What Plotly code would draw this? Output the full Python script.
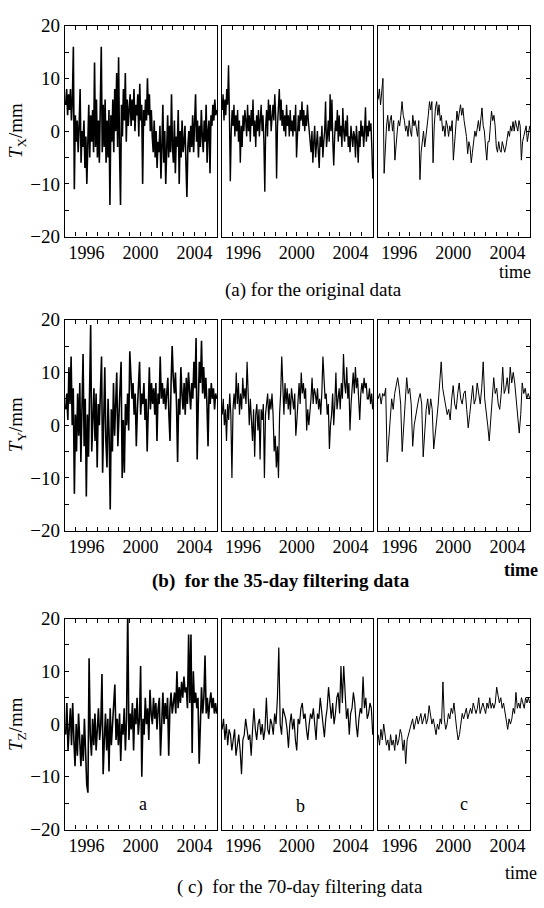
import numpy as np
import plotly.graph_objects as go

W, H = 544, 908
FONT = "Liberation Serif"

# ---------------- data ----------------
# time span of every sub-series (decimal years) and axis ticks
T_START, T_END = 1994.45, 2005.65
X_RANGE = [1994.4, 2005.67]
Y_RANGE = [-20, 20]
YEAR_LABELS = [1996, 2000, 2004]
Y_TICKS = [-20, -15, -10, -5, 0, 5, 10, 15, 20]
Y_LABELS = ["\u221220", "", "\u221210", "", "0", "", "10", "", "20"]

# Row 1: T_X, original data, stations a, b, c
TX_A = [5, 8, 3, 7, 4, 8, 2, 6, 16,
        -11, 3, -2, 2, -4, 1, 8, -6, 0, -3, 2, -7, -1, -10, -3,
        5, -5, 3, -2, 4, -4, 13, -3, 6, -5, 2, -6, 3, 16, -4, 5, -3, 6, -6, 2, -5, 4,
        -14, 3, -2, 6, -4, 8, 0, 11, -3, 14, -4, -14, 5, -1, 8, 2, 11, -2, 6, 1,
        4, 7, 1, 6, 2, 8, 0, 5, 3, 7, -1, 9, 2, 5, -10, 4, 1, 6, 2, 10, 3, 7, 0, 4,
        -1, -4, 2, -5, 0, -7, -2, -4, 1, -9, -3, 5, -6, 0, -10, -2, 3, -5, 1, -4,
        7, -3, -6, 2, -8, -1, -3, 4, -10, 0, -5, 2, -4, -2, 1, -6, -12.5, -3, 0, -4,
        1, -3, 3, -4, 0, 7, -2, 2, -5, 1, -3, 4, -1, -4, 2, -2, 5, -6, 0, 2,
        -8, 3, 1, 5, 2, 6, 3, 4]
TX_B = [4, 7, 2, 6, 3, 8, 5, 12.5,
        3, -9.5, 0, 4,
        1, 5, -1, 3, 0, 4, -2, 2, -6, 1, -3, 3, 0, 4,
        2, -1, 5, 0, 3, -2, 4, 1, 6, -1, 2, -3, 3, 0, 4, -1, 2,
        5, 0, 3, -2, -11.5, 1, 4, -1, 6, 2, 5, 0, 3,
        5, 2, 7, 3, -9, 1, 4, 8, 2, 6, 1,
        4, 0, 3, -1, 5, 1, 3, -1, 4, 0, 2, -1, 3, 0, 5, -5, 1, 3, 0, 4,
        2, 5.6, 1, 4, 0, 3, 1, 5, 2, 0,
        -1, -4, 0, -6, -2, 1, -5, -3, 0, -4, -7, -1, -3, 1, -5, -2, 0, 5.6,
        -3, -1, 2, -2, 7, 0, 6,
        -2, -6.5, -1, 2, 0, 4, -2, 3, -1, 1, -3, 4.4, 0, -2, 2, -1, 3, -3,
        -1, -4, 1, -2, -3, 0, -1, -5, 1, -2, -6, 0, -3, 2, -1, 1, -3, 0, 4.5,
        -2, 1, -1, 2, 0, 1.5, -3, -9]
TX_C = [6, 8, 5, 7, 10, -8, -2, 1, 3, 0, 2, 3, 0, 2, -5.5, -2,
        0, 2, 1, 3, 5.6, 3, 2, 0, 1, -1, 2, 0, -1, 3, 1, 2, 0, -1, 2,
        -9.2, -4, -2, 0, -3, -1, 0, 3, 5.6, 4, 5.6, -6, 1, 4.4, 5.6, 3, 5,
        2, 3, 0, 1, -1, 2, 1, -1, 1, 0, 2, -5.5, -2,
        1, 3.8, 2, 4, 5, 3, 4.4, 2, 0, -1, -4.3, -2, -3, -6, -4,
        -2, 0, -1, 1, 2, 0, 2, 4.4, 1, 0, -3, -5.5, -2,
        -2, 1, 3.8, 2, 3, 1, -3, -4, -2, -3.5, -4, -2, -3, -4, -3, -1,
        0, -1, 1, 0, 1.8, 0, 2, 1, 0, 2, 1, -5.5, -2, -1, 0, 1, -2, 0, 1]

# Row 2: T_Y, 35-day filtering data
TY_A = [3, 6, 1, 11, 4, 13, 0, 7, -13,
        2, -5, 6, -2, 8, -7, 3, 13.5, -4, 5, -13.5, 2, -6, 8, 19,
        -5, 3, 7, -3, 6, -8, 4, 0, 8, 13, -9, 4, 11, -3, -8, 5, -2, -16,
        3, -5, 8, -2, 6, 10, -4, 3, 7, 12, -10, 1, -9, 4, 0, 6, -1, 14,
        9, 5, 8, 2, 6, -4, 3, 7, 12, 2, 6, 4, 8, 1, 5, -5,
        6, 11, 3, 8, 4, 7, 2, 8, -3, 6, 4, 13, 5, 8, 4, 7, 3, 6, 9, 2, -3,
        8, 15, 9, 6, 10, 4, -7, 5, 2, 11, 6, 3, 8,
        2, 9, 4, 10, 6, 3, 8, 5, 12, 7, 16.5, -6.5, 4, 12, 8, 16,
        6, 11, 5, 9, 4, -4, 7, 4, 8, 5, 7, 3, 6, 5]
TY_B = [2, 5, 0, 3, -3, 4, 1, 6, 2, -10, 3,
        6, 3, 10, 4, 8, 2, 6, 3, 9, 5, 7, 4, 12, 6,
        0, 5, 2, -3, 3, -6, 2, 4, -1, 3, -6.5, 3, 1,
        4, -10, 2, 4, 6, 1, 5, 3, 6, 2,
        -5, -2, -8, -4, -10, 2, 6, 13, 5,
        2, 8, 4, 7, 3, 6, 2, 7, 5, 3, 6, -2, 1,
        5, 8, 4, 10, 6, 8, 5, 7, -1, 3, 0, 2, 5, 9, 4, 7,
        6, 4, 7, 3, 5, 2, 6, 13, 8, 5, 6, 2, 4, -4.5, 0,
        2, 6, 0, 4, 10, 3, 6, 7, 3, 8, 5, 13.5, 8,
        6, 11, 5, 8, -1, 4, 8, 10, 6,
        11, 7, 9, 5, 1, 6, 8, 6, 9, 7, 8, 5, 5, 7, 4, 6, 3]
TY_C = [5, 6, 4, 6, 5.5, 7, -7, -2, 1, 5, 3, 6, 8, 9, 7, 4, -5, 0,
        3, 9, 6, 7, 4, -4, 0, 2, 3, 5, 6, 4, -6, -1, 3, 5, 2, 5, 3,
        -4.5, -1, 1, 4, 8, 12, 7, 5, 4, 2, 3, 1,
        5, 7.5, 4, 3, 6, 8, 5, 4, 6, 6.5, 3, -0.5, 2,
        5, 7.5, 4, 5, 8, 6, 4, 7, 12, 5, 3, 0, -3,
        2, 5, 9, 6, 7, 4, 3, 6, 11,
        6, 7, 9, 6, 11, 8, 10, 8, 5, 3, -1.5, 2, 8, 6, 7, 5, 6, 5]

# Row 3: T_Z, 70-day filtering data
TZ_A = [-2, 4, -5, -1, 3, -4, 4,
        -3, -8, 0, -6, 2, -5, -8, -2, -7, 1, -4, -11.5, -13, 12.5,
        -2, -6, 1, -4, 2, -5, -1, 3, -3, 0, 9.5, -9.5,
        -3, 2, -5, 1, -9, 3, -4, 0, 2, 7.5,
        -3, 1, -4, 2, -7, 0, -2, 3, -5, 1, 22,
        -3, 2, -1, 4, -5, 3, 0, 5, -2, 1, 11, -10,
        1, -2, 5, 0, 3, -3, 6.5, 2, 0, 5, 1, 4, -1, 3, 5, -6,
        2, 6, 0, 4, 1, 5, -6, 3, 6, 2, 4, 6, 2, 10,
        3, 7, 4, 8, 5, 9, 6, 7, 3, 17, 4, 17, -5.5,
        10, 4, 6, 3, 5, -7.5, 3, 7, 2, 5, 13,
        2, 5, 1, 4, 6, 3, 5, 2, 4, 2]
TZ_B = [-1, 1, -3, 0, -4, -1, -2, -5, -3, -1, -6, -4, -2, -5, -9.5, -3, -2,
        1, -1, -3, -2, -6, -1, 3, -1, -3, 0, 1, -2, 0, -3, -1, 5, -1, -2, 1, 0, -2,
        2, 0, 5, 14.5, 0, -2, 3, 2, 1, -1, -4.5, 0, 2, -1, 1, -3, -5, 1, 0, 3,
        4, 1, 2, -1, -3, 0, 2, 1, 3, 0, -3, 2, 1, 5, 2, 0, -2.5, 1, 3, 7, 3,
        1, 4, 0, 2, 5, 6, 2, 11, 4, 11, 6, 1, 3, -2, 2, 3, 6, 4, 0, -2.5,
        1, 3, 2, 9, 3, 5, 1, 2, 4, 3, -2]
TZ_C = [-2, -4, -1, -3, 0, -2, -4, -3, -5, -2, -4,
        -3, -5, -2, -4, -3, -1, -2, -5, -3, -7.5, -3,
        -2, -1, 0, 1, -1, 0, 1.5, 0, 1, 2, 0, 1, 2, 0, 1, 3.5, 2,
        0, 1, -1, -2, 0, -1, 1, 0, 8, 1,
        -1, 0, 2, 1, 3, 2, 4, 1, -1, -3, -2,
        0, 2, 1, 2, 3, 1, 2, 3, 2, 4, 3, 2,
        3, 5, 2, 3, 4, 3, 2, 4, 3, 5, 3, 4,
        3, 4, 7, 5.5, 4, 5, 3, 4, 2, 0,
        -1, 1, 0, 1, 3, 2, 6, 3, 4, 3, 5, 4, 3, 5, 4, 5, 4]

ROW_SERIES = [[TX_A, TX_B, TX_C], [TY_A, TY_B, TY_C], [TZ_A, TZ_B, TZ_C]]
ROW_YTITLES = ["<i>T</i><sub>X</sub>/mm", "<i>T</i><sub>Y</sub>/mm", "<i>T</i><sub>Z</sub>/mm"]
ROW_CAPTIONS = ["(a) for the original data",
                "<b>(b)  for the 35-day filtering data</b>",
                "( c)  for the 70-day filtering data"]
ROW_TIME = ["time", "<b>time</b>", "time"]
STATION_LABELS = ["a", "b", "c"]

# line widths per row / column (density of the traces in the picture)
LINE_W = [[1.6, 1.4, 1.0], [1.6, 1.2, 1.0], [1.6, 1.2, 1.0]]

# ---------------- layout geometry (pixels) ----------------
COLS = [(65, 217), (221.5, 373), (377.5, 530)]
ROWS = [(16, 232), (317, 533), (623, 839)]
CAPTION_Y = [287, 585, 898]
CAPTION_X = [313, 281, 300]
TIME_Y = [268, 573, 883]
TIME_X = [533, 540, 539]
LETTER_POS = [(143, 813), (300, 815), (464, 813)]

X_TICKS = [round(1996 + 0.8 * k, 1) for k in range(-1, 13)]
X_TEXT = [str(int(v)) if v in YEAR_LABELS else "" for v in X_TICKS]

fig = go.Figure()
layout = dict(width=W, height=H, margin=dict(l=0, r=0, t=0, b=0),
              paper_bgcolor="white", plot_bgcolor="white", showlegend=False,
              font=dict(family=FONT, color="black", size=18))

n = 0
for r, (top, bot) in enumerate(ROWS):
    for c, (left, right) in enumerate(COLS):
        n += 1
        sx = "" if n == 1 else str(n)
        vals = ROW_SERIES[r][c]
        t = np.linspace(T_START, T_END, len(vals))
        fig.add_trace(go.Scatter(x=t, y=vals, mode="lines",
                                 line=dict(color="black", width=LINE_W[r][c]),
                                 xaxis="x" + sx, yaxis="y" + sx, hoverinfo="skip"))
        layout["xaxis" + sx] = dict(
            domain=[left / W, right / W], anchor="y" + sx, range=X_RANGE,
            showgrid=False, zeroline=False, showline=True, linecolor="black",
            linewidth=1.3, mirror="ticks", ticks="inside", ticklen=4,
            tickwidth=1.2, tickcolor="black", tickmode="array",
            tickvals=X_TICKS, ticktext=X_TEXT,
            tickfont=dict(family=FONT, size=18, color="black"))
        ya = dict(domain=[1 - bot / H, 1 - top / H], anchor="x" + sx,
                  range=Y_RANGE, showgrid=False, zeroline=False, showline=True,
                  linecolor="black", linewidth=1.3, mirror=True,
                  tickmode="array", tickvals=Y_TICKS, ticktext=Y_LABELS,
                  tickfont=dict(family=FONT, size=19, color="black"))
        if c == 0:
            ya.update(ticks="inside", ticklen=4, tickwidth=1.2, tickcolor="black",
                      showticklabels=True)
        elif c == 2:
            ya.update(side="right", ticks="inside", ticklen=4, tickwidth=1.2,
                      tickcolor="black", showticklabels=False)
        else:
            ya.update(ticks="", showticklabels=False)
        layout["yaxis" + sx] = ya

annotations = []
for r, (top, bot) in enumerate(ROWS):
    annotations.append(dict(text=ROW_YTITLES[r], xref="paper", yref="paper",
                            x=17 / W, y=1 - (top + bot) / 2 / H, textangle=-90,
                            showarrow=False, xanchor="center", yanchor="middle",
                            font=dict(family=FONT, size=19, color="black")))
    annotations.append(dict(text=ROW_CAPTIONS[r], xref="paper", yref="paper",
                            x=CAPTION_X[r] / W, y=1 - CAPTION_Y[r] / H,
                            showarrow=False, xanchor="center", yanchor="middle",
                            font=dict(family=FONT, size=19, color="black")))
    annotations.append(dict(text=ROW_TIME[r], xref="paper", yref="paper",
                            x=TIME_X[r] / W, y=1 - TIME_Y[r] / H,
                            showarrow=False, xanchor="right", yanchor="middle",
                            font=dict(family=FONT, size=18, color="black")))

for c, lab in enumerate(STATION_LABELS):
    lx, ly = LETTER_POS[c]
    annotations.append(dict(text=lab, xref="paper", yref="paper",
                            x=lx / W, y=1 - ly / H, showarrow=False,
                            xanchor="center", yanchor="middle",
                            font=dict(family=FONT, size=18, color="black")))

layout["annotations"] = annotations
fig.update_layout(**layout)
fig.write_html("out.html", config={"displayModeBar": False},
               post_script="document.body.style.margin='0px';"
                           "document.body.style.overflow='hidden';")
